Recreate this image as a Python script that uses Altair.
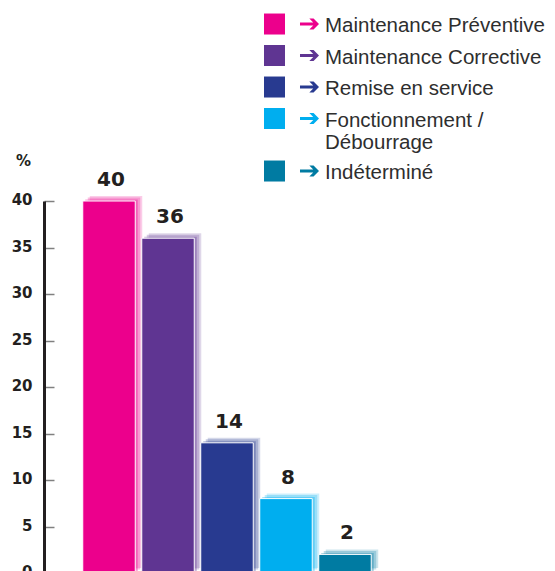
import altair as alt
import pandas as pd

categories = [
    "Maintenance Préventive",
    "Maintenance Corrective",
    "Remise en service",
    "Fonctionnement / Débourrage",
    "Indéterminé",
]
values = [40, 36, 14, 8, 2]
colors = ["#EC008C", "#5F3592", "#283A90", "#00AEEF", "#007BA2"]
y_ticks = [0, 5, 10, 15, 20, 25, 30, 35, 40]

df = pd.DataFrame({"cat": categories, "cat_b": categories, "pct": values})

INK = "#231f20"
LEG_TXT = "#2e2e2e"

# legend symbol shapes (unit square coordinates)
square_path = "M-1,0.60M-1,-1.76L1,-1.76L1,0.24L-1,0.24Z"
arrow_path = ("M-1,-1.76M1,0.60"
              "M-0.905,-0.91L0.355,-0.91L-0.015,-1.28L0.385,-1.28L0.905,-0.76"
              "L0.385,-0.24L-0.015,-0.24L0.355,-0.61L-0.905,-0.61Z")

label_expr = ("datum.label == 'Fonctionnement / Débourrage' ? "
              "['Fonctionnement /', 'Débourrage'] : datum.label")
spacer_expr = ("datum.label == 'Fonctionnement / Débourrage' ? "
               "[' ', ' '] : ' '")

common_leg = dict(
    orient="none", title=None, padding=0, rowPadding=6.5,
    symbolSize=441, symbolStrokeWidth=0, symbolOffset=0,
    labelFont="Liberation Sans", labelFontSize=20.5, labelBaseline="alphabetic",
    labelLimit=400,
)

legend_sq = alt.Legend(legendX=220, legendY=-179.5, symbolType=square_path,
                       labelOpacity=0, labelExpr=spacer_expr, **common_leg)
legend_arrow = alt.Legend(legendX=255, legendY=-179.5, symbolType=arrow_path,
                          labelColor=LEG_TXT, labelOffset=5, symbolOpacity=1,
                          labelExpr=label_expr, **common_leg)

x_enc = alt.X("cat:N", sort=categories, axis=None,
              scale=alt.Scale(paddingInner=0.11, paddingOuter=0.657))
y_enc = alt.Y(
    "pct:Q",
    scale=alt.Scale(domain=[0, 40], nice=False),
    axis=alt.Axis(
        values=y_ticks, title="%", titleAngle=0, titleX=-21, titleY=-41,
        titleAlign="center", titleBaseline="middle", titleFont="DejaVu Sans",
        titleFontWeight="bold", titleFontSize=15, titleColor=INK,
        labelFont="DejaVu Sans", labelFontWeight="bold", labelFontSize=15,
        labelColor=INK, labelPadding=12, labelOffset=-1.5,
        ticks=False, tickSize=0, domainColor=INK, domainWidth=3,
        grid=True, gridColor="#808080", gridWidth=1.5, gridDash=[10, 2000],
    ),
)

base = alt.Chart(df)

shadow_specs = [(7, -5, 0.2), (5, -3.5, 0.25), (2.5, -1.5, 0.35)]
shadows = []
for dx, dy, op in shadow_specs:
    shadows.append(
        base.mark_bar(xOffset=dx, yOffset=dy, opacity=op).encode(
            x=x_enc, y=y_enc,
            fill=alt.Fill("cat_b:N", sort=categories,
                          scale=alt.Scale(range=colors),
                          legend=legend_arrow),
        )
    )

bars = base.mark_bar(stroke="white", strokeWidth=1).encode(
    x=x_enc, y=y_enc,
    color=alt.Color("cat:N", sort=categories,
                    scale=alt.Scale(range=colors),
                    legend=legend_sq),
)

labels = base.mark_text(
    font="DejaVu Sans", fontWeight="bold", fontSize=20, color=INK,
    dx=2, dy=-15, baseline="alphabetic",
).encode(x=x_enc, y=y_enc, text="pct:Q")

chart = alt.layer(*shadows, bars, labels).properties(
    width=366, height=372,
    padding={"left": 44, "top": 201, "right": 145, "bottom": 0},
    autosize=alt.AutoSizeParams(type="none"),
    background="white",
).configure_view(stroke=None)

chart.save("out.html", embed_options={"renderer": "svg", "actions": False})
